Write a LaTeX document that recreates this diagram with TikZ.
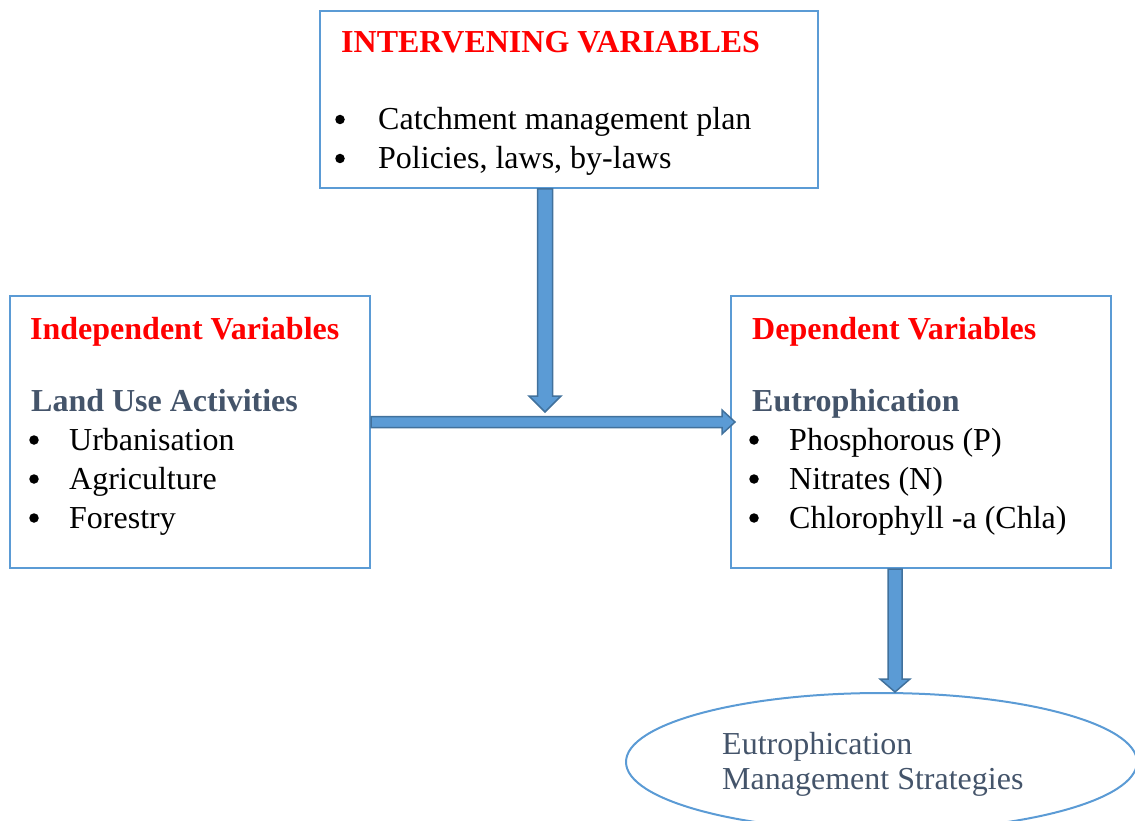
\documentclass[tikz,border=0pt]{standalone}
\usepackage{fontspec}
\setmainfont{Liberation Serif}
\usetikzlibrary{shapes.geometric,calc}
\definecolor{boxblue}{HTML}{5B9BD5}
\definecolor{arrfill}{HTML}{5B9BD5}
\definecolor{arrdark}{HTML}{41719C}
\definecolor{headgrey}{HTML}{44546A}
\definecolor{hred}{HTML}{FF0000}
\newcommand\myvarrow[5]{%
  \draw[blockarr] let \p1=(#1), \p2=(#2) in
    (\x1-#3pt,\y1) -- (\x1-#3pt,\y2+#5pt) -- (\x1-#4pt,\y2+#5pt) -- (\x1,\y2)
    -- (\x1+#4pt,\y2+#5pt) -- (\x1+#3pt,\y2+#5pt) -- (\x1+#3pt,\y1) -- cycle;}
\newcommand\myharrow[5]{%
  \draw[blockarr] let \p1=(#1), \p2=(#2) in
    (\x1,\y1+#3pt) -- (\x2-#5pt,\y1+#3pt) -- (\x2-#5pt,\y1+#4pt) -- (\x2,\y1)
    -- (\x2-#5pt,\y1-#4pt) -- (\x2-#5pt,\y1-#3pt) -- (\x1,\y1-#3pt) -- cycle;}
\begin{document}
\begin{tikzpicture}[x=1pt,y=-1pt,
  box/.style={draw=boxblue, line width=2pt, rectangle, inner sep=0pt},
  txt/.style={anchor=base west, inner sep=0pt, font=\fontsize{32}{38}\selectfont},
  redhead/.style={txt, text=hred, font=\fontsize{32}{38}\selectfont\bfseries},
  greyhead/.style={txt, text=headgrey, font=\fontsize{32}{38}\selectfont\bfseries},
  bul/.style={circle, fill=black, inner sep=0pt, minimum size=9.5pt},
  blockarr/.style={fill=arrfill, draw=arrdark, line width=1.5pt, line join=miter}]
\useasboundingbox (0,0) rectangle (1135,821);
% boxes
\node[box, minimum width=498pt, minimum height=177pt] (top) at (569,99.5) {};
\node[box, minimum width=360pt, minimum height=272pt] (left) at (190,432) {};
\node[box, minimum width=380pt, minimum height=272pt] (right) at (921,432) {};
\node[draw=boxblue, line width=2pt, ellipse, minimum width=511pt, minimum height=138pt, inner sep=0pt] (ell) at (881.5,762) {};
% top box text
\node[redhead] (t0) at (341,52.5) {INTERVENING VARIABLES};
\node[bul] (tb1) at (340,119.5) {};
\node[txt] (t1) at (378,129.5) {Catchment management plan};
\node[bul] (tb2) at (340,158.5) {};
\node[txt] (t2) at (378,168.5) {Policies, laws, by-laws};
% left box text
\node[redhead] (l0) at (30,339) {Independent Variables};
\node[greyhead] (l1) at (31,411) {Land Use Activities};
\node[bul] (lb1) at (34,440) {};
\node[txt] (l2) at (69,450) {Urbanisation};
\node[bul] (lb2) at (34,479) {};
\node[txt] (l3) at (69,489) {Agriculture};
\node[bul] (lb3) at (34,518) {};
\node[txt] (l4) at (69,528) {Forestry};
% right box text
\node[redhead] (r0) at (752,339) {Dependent Variables};
\node[greyhead] (r1) at (752,411) {Eutrophication};
\node[bul] (rb1) at (754,440) {};
\node[txt] (r2) at (789,450) {Phosphorous (P)};
\node[bul] (rb2) at (754,479) {};
\node[txt] (r3) at (789,489) {Nitrates (N)};
\node[bul] (rb3) at (754,518) {};
\node[txt] (r4) at (789,528) {Chlorophyll -a (Chla)};
% ellipse text
\node[txt, text=headgrey] (e1) at (722,754) {Eutrophication};
\node[txt, text=headgrey] (e2) at (722,789) {Management Strategies};
% arrows
\coordinate (a1s) at (top.south -| 545,0);
\coordinate (a1e) at (545,412);
\myvarrow{a1s}{a1e}{7.5}{16}{16}
\coordinate (a2s) at (left.east |- 0,422);
\coordinate (a2e) at (735,422);
\myharrow{a2s}{a2e}{5.5}{12}{13}
\coordinate (a3s) at (right.south -| 895,0);
\coordinate (a3e) at (ell.north -| 895,0);
\myvarrow{a3s}{a3e}{7}{15}{13}
\end{tikzpicture}
\end{document}
